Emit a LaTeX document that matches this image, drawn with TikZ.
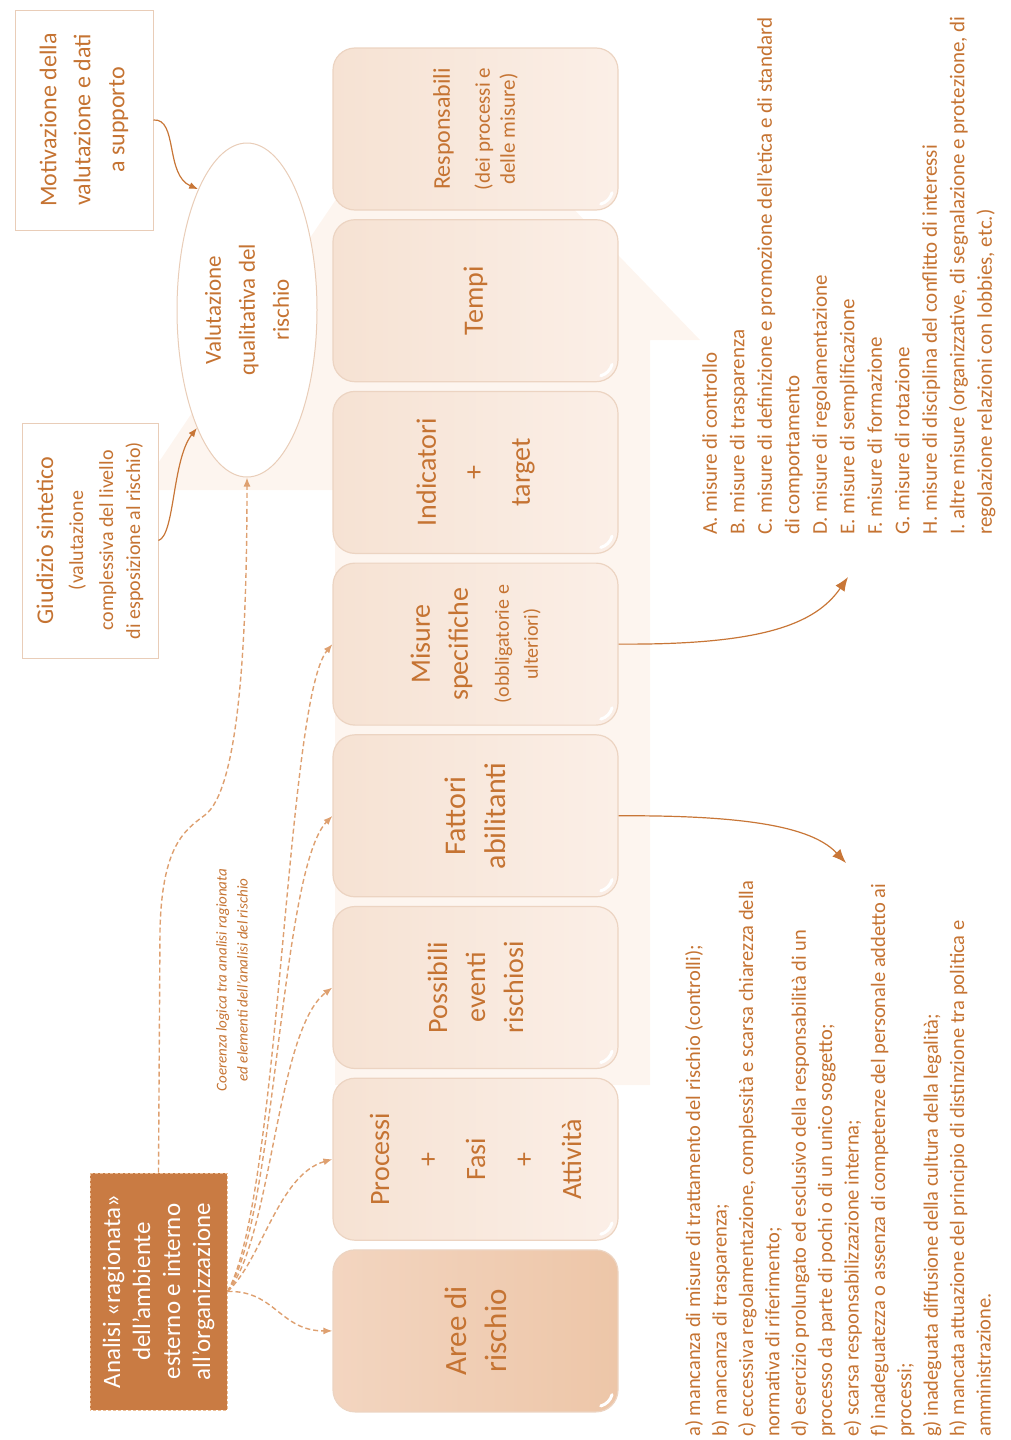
\documentclass[tikz,border=0pt]{standalone}
\usepackage{fontspec}
\setmainfont{Carlito}
\usetikzlibrary{shapes.geometric,arrows.meta,calc}
\definecolor{txt}{RGB}{197,115,50}
\definecolor{frame}{RGB}{233,205,184}
\definecolor{boxline}{RGB}{236,212,194}
\definecolor{boxA}{RGB}{246,226,211}
\definecolor{boxB}{RGB}{251,239,231}
\definecolor{areaA}{RGB}{243,213,192}
\definecolor{areaB}{RGB}{237,198,168}
\definecolor{analisi}{RGB}{201,123,67}
\definecolor{analisiline}{RGB}{236,190,150}
\definecolor{bgarrow}{RGB}{253,245,239}
\definecolor{arrowline}{RGB}{200,118,55}
\definecolor{dashline}{RGB}{222,160,112}
\tikzset{
  stepbox/.style={rotate=90, draw=boxline, line width=1.2pt, rounded corners=22pt,
    minimum width=162pt, minimum height=285pt, left color=boxA, right color=boxB,
    text=txt, align=center, inner sep=2pt, font=\fontsize{28}{38}\selectfont},
  notebox/.style={rotate=90, draw=frame, line width=1pt, fill=white, text=txt,
    align=center, inner sep=2pt},
  listtext/.style={rotate=90, anchor=north west, align=left, inner sep=0pt, text=txt},
  solidarrow/.style={draw=arrowline, line width=1.2pt, -{Latex[length=14pt,width=11pt]}},
  feedarrow/.style={draw=arrowline, line width=1.2pt, -{Latex[length=9pt,width=7pt]}},
  dasharrow/.style={draw=dashline, line width=1.4pt, dash pattern=on 5pt off 3pt,
    -{Latex[length=9pt,width=7pt]}},
  gloss/.style={white, line width=3pt, line cap=round}
}
\begin{document}
\begin{tikzpicture}[x=1pt,y=1pt]
\useasboundingbox (0,0) rectangle (1010,-1440);
\fill[bgarrow] (335,-1085) -- (650,-1085) -- (650,-340) -- (700,-340) -- (430,-60) -- (140,-490) -- (335,-490) -- cycle;

\node[stepbox, font=\fontsize{24}{25}\selectfont] (resp) at (475.5,-129) {Responsabili\\[15pt]{\fontsize{21}{25}\selectfont (dei processi e}\\{\fontsize{21}{25}\selectfont delle misure)}};
\node[stepbox] (tempi) at (475.5,-300.7) {Tempi};
\node[stepbox, font=\fontsize{28}{47}\selectfont] (indic) at (475.5,-472.4) {Indicatori\\+\\target};
\node[stepbox] (misu) at (475.5,-644.1) {Misure\\specifiche\\[3pt]{\fontsize{20}{24}\selectfont (obbligatorie e}\\[-9pt]{\fontsize{20}{24}\selectfont ulteriori)}};
\node[stepbox, font=\fontsize{30}{40}\selectfont] (fatt) at (475.5,-815.8) {Fattori\\abilitanti};
\node[stepbox] (poss) at (475.5,-987.5) {Possibili\\eventi\\rischiosi};
\node[stepbox, font=\fontsize{28}{48}\selectfont] (proc) at (475.5,-1159.2) {Processi\\+\\Fasi\\+\\Attività};
\node[stepbox, left color=areaA, right color=areaB, font=\fontsize{31}{40}\selectfont] (aree) at (475.5,-1330.9) {Aree di\\rischio};
\foreach \b in {resp,tempi,indic,misu,fatt,poss,proc,aree}
  \draw[gloss] ($(\b.south west)+(-22,22)+(-15:16)$) arc[start angle=-15, end angle=-75, radius=16];

\node[ellipse, rotate=90, draw=frame, line width=1pt, fill=white, minimum width=334pt, minimum height=140pt, inner sep=0pt, text=txt, align=center, font=\fontsize{23}{34}\selectfont] (valut) at (247,-310) {Valutazione\\qualitativa del\\rischio};
\node[notebox, minimum width=220pt, minimum height=138pt, font=\fontsize{24}{34}\selectfont] (motiv) at (84,-120) {Motivazione della\\valutazione e dati\\a supporto};
\node[notebox, minimum width=235pt, minimum height=136pt, font=\fontsize{24}{30}\selectfont] (giud) at (90,-540.5) {Giudizio sintetico\\{\fontsize{20}{24}\selectfont (valutazione}\\{\fontsize{20}{24}\selectfont complessiva del livello}\\[-3pt]{\fontsize{20}{24}\selectfont di esposizione al rischio)}};
\node[rotate=90, fill=analisi, draw=analisiline, line width=1pt, dash pattern=on 3pt off 2pt, minimum width=237pt, minimum height=137pt, text=white, align=center, font=\fontsize{25}{30}\selectfont] (anal) at (158.5,-1291.5) {Analisi «ragionata»\\dell’ambiente\\esterno e interno\\all’organizzazione};
\node[rotate=90, text=txt, align=center, font=\fontsize{15}{21}\selectfont\itshape] (coer) at (232,-980) {Coerenza logica tra analisi ragionata\\ed elementi dell’analisi del rischio};

\node[listtext, font=\fontsize{20.5}{26.4}\selectfont] (fattlist) at (685,-1437) {a) mancanza di misure di trattamento del rischio (controlli);\\b) mancanza di trasparenza;\\c) eccessiva regolamentazione, complessità e scarsa chiarezza della\\normativa di riferimento;\\d) esercizio prolungato ed esclusivo della responsabilità di un\\processo da parte di pochi o di un unico soggetto;\\e) scarsa responsabilizzazione interna;\\f) inadeguatezza o assenza di competenze del personale addetto ai\\processi;\\g) inadeguata diffusione della cultura della legalità;\\h) mancata attuazione del principio di distinzione tra politica e\\amministrazione.};
\node[listtext, font=\fontsize{21}{27.5}\selectfont] (misulist) at (702,-535) {A. misure di controllo\\B. misure di trasparenza\\C. misure di definizione e promozione dell’etica e di standard\\di comportamento\\D. misure di regolamentazione\\E. misure di semplificazione\\F. misure di formazione\\G. misure di rotazione\\H. misure di disciplina del conflitto di interessi\\I. altre misure (organizzative, di segnalazione e protezione, di\\regolazione relazioni con lobbies, etc.)};

\coordinate (mtip) at (848,-577);
\coordinate (ftip) at (846,-863);
\draw[solidarrow] (misu.south) .. controls (760,-645) and (815,-625) .. (mtip);
\draw[solidarrow] (fatt.south) .. controls (760,-815) and (815,-830) .. (ftip);
\draw[feedarrow] (motiv.south) .. controls (178,-118) and (165,-175) .. (valut.22);
\draw[feedarrow] (giud.south) .. controls (175,-535) and (172,-460) .. (valut.157);

\draw[dasharrow] (anal.east) -- (160,-930) .. controls (162,-845) and (185,-830) .. (205,-815) .. controls (238,-790) and (247,-650) .. (valut.west);
\draw[dasharrow] (anal.south) .. controls (275,-1290) and (280,-1331) .. (aree.north);
\draw[dasharrow] (anal.south) .. controls (262,-1260) and (278,-1175) .. (proc.north);
\draw[dasharrow] (anal.south) .. controls (272,-1240) and (276,-1030) .. (poss.north);
\draw[dasharrow] (anal.south) .. controls (276,-1220) and (280,-870) .. (fatt.north);
\draw[dasharrow] (anal.south) .. controls (280,-1200) and (286,-700) .. (misu.north);
\end{tikzpicture}
\end{document}
